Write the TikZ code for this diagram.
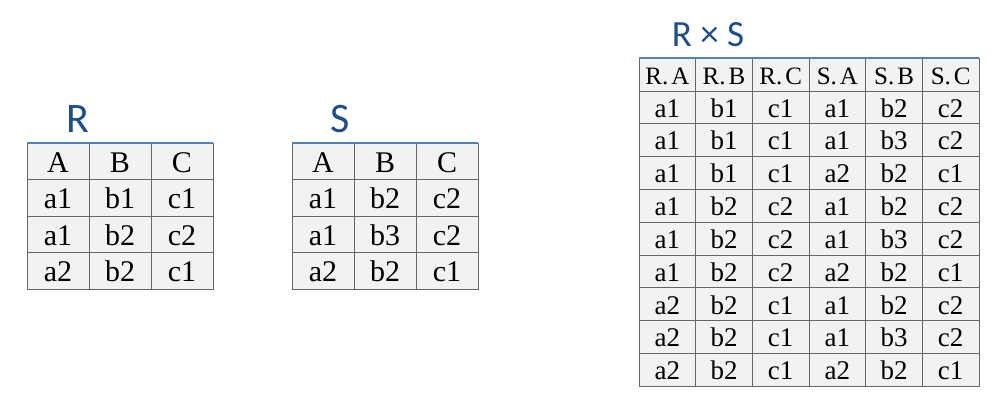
\documentclass[tikz,border=0pt]{standalone}
\usepackage{fontspec}
\setmainfont{Liberation Serif}
\newfontfamily\titlefont{Carlito}
\definecolor{titleblue}{HTML}{1F4E8C}
\definecolor{ruleblue}{HTML}{4F81BD}
\definecolor{cellgray}{HTML}{F2F2F2}
\definecolor{linegray}{HTML}{666666}
\newcommand\hdsize{\fontsize{25}{25}\selectfont}
\tikzset{
  cell/.style={draw=linegray, fill=cellgray, inner sep=0pt, minimum width=62pt, minimum height=36.5pt,
    text height=22pt, text depth=0pt, font=\fontsize{30}{30}\selectfont},
  bigcell/.style={cell, minimum width=56.67pt, minimum height=32.8pt,
    text height=20pt, font=\fontsize{27}{27}\selectfont},
  title/.style={anchor=base, text=titleblue, inner sep=0pt, font=\titlefont\fontsize{42}{42}\selectfont},
  toprule/.style={draw=ruleblue, line width=2.5pt}
}
\begin{document}
\begin{tikzpicture}[x=1pt,y=-1pt]
\useasboundingbox (0,0) rectangle (1000,411);
% table R
\foreach \row [count=\i from 0] in {{A,B,C},{a1,b1,c1},{a1,b2,c2},{a2,b2,c1}}
  \foreach \v [count=\j] in \row
    \node[cell] (R-\i-\j) at ({27+(\j-0.5)*62},{143+(\i+0.5)*36.5}) {\v};
\draw[toprule] (R-0-1.north west) -- (R-0-3.north east);
\node[title] (Rname) at (78,133) {R};
% table S
\foreach \row [count=\i from 0] in {{A,B,C},{a1,b2,c2},{a1,b3,c2},{a2,b2,c1}}
  \foreach \v [count=\j] in \row
    \node[cell] (S-\i-\j) at ({292+(\j-0.5)*62},{143+(\i+0.5)*36.5}) {\v};
\draw[toprule] (S-0-1.north west) -- (S-0-3.north east);
\node[title] (Sname) at (340,133) {S};
% table R x S
\foreach \row [count=\i from 0] in {{\hdsize R.\kern3pt A,\hdsize R.\kern3pt B,\hdsize R.\kern3pt C,\hdsize S.\kern3pt A,\hdsize S.\kern3pt B,\hdsize S.\kern3pt C},
    {a1,b1,c1,a1,b2,c2},{a1,b1,c1,a1,b3,c2},{a1,b1,c1,a2,b2,c1},
    {a1,b2,c2,a1,b2,c2},{a1,b2,c2,a1,b3,c2},{a1,b2,c2,a2,b2,c1},
    {a2,b2,c1,a1,b2,c2},{a2,b2,c1,a1,b3,c2},{a2,b2,c1,a2,b2,c1}}
  \foreach \v [count=\j] in \row
    \node[bigcell] (RS-\i-\j) at ({639+(\j-0.5)*56.67},{58+(\i+0.5)*32.8}) {\v};
\draw[toprule] (RS-0-1.north west) -- (RS-0-6.north east);
\node[title, font=\titlefont\fontsize{37}{37}\selectfont] (RSname) at (708,47) {R × S};
\end{tikzpicture}
\end{document}
